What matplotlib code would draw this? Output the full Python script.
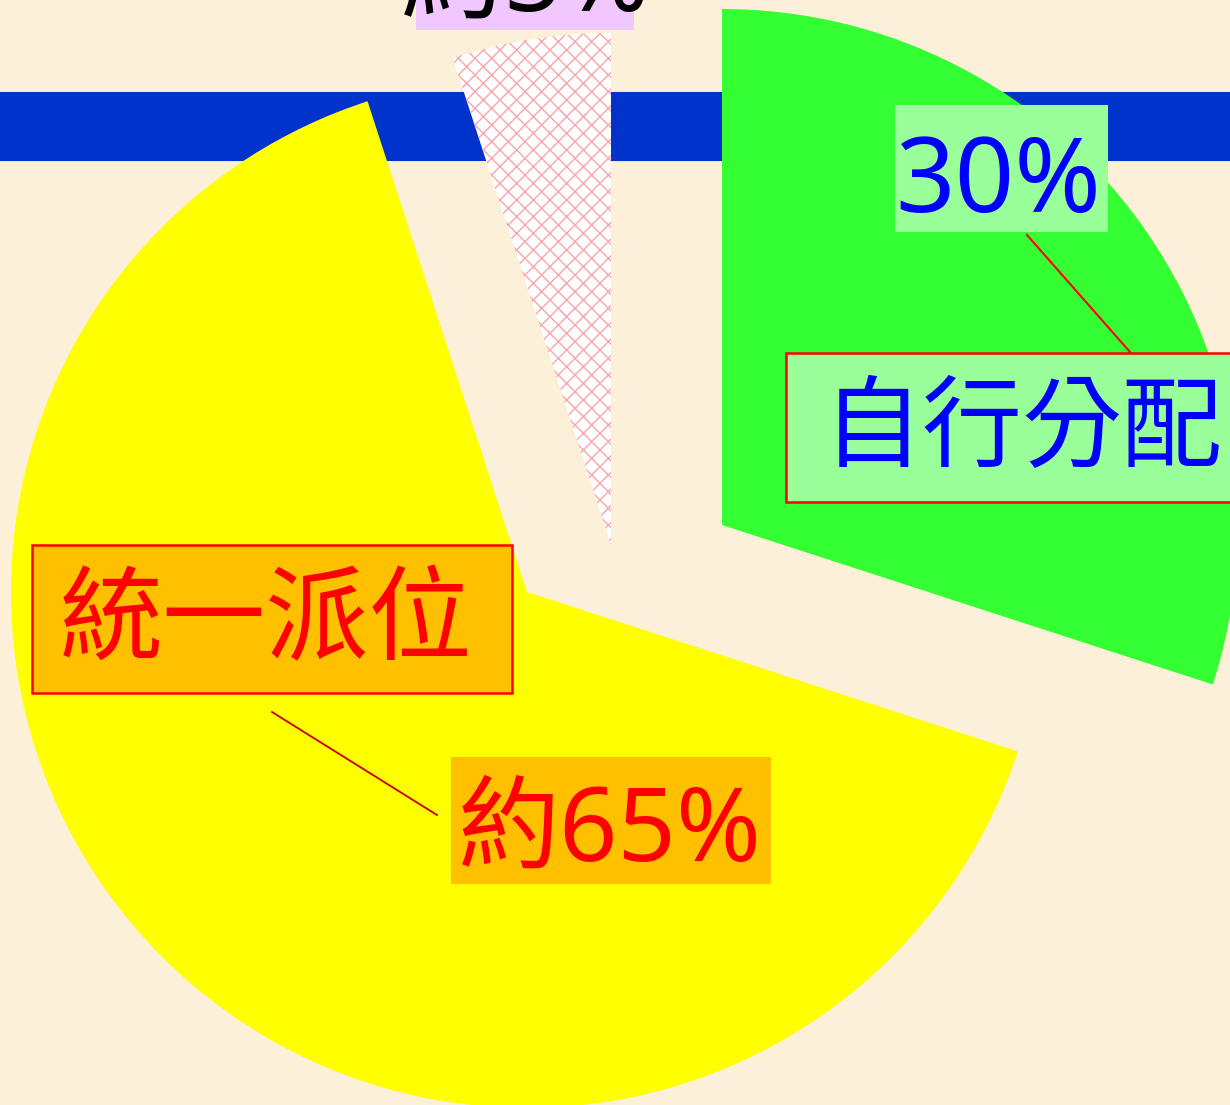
"""
Exploded pie of how places are allocated (統一派位 / 自行分配 / remainder)
"""
import matplotlib
matplotlib.use('Agg')
import matplotlib.pyplot as plt
from matplotlib.patches import Wedge, Rectangle

# shares in percent, in counterclockwise order starting from 12 o'clock
names = ['其他', '統一派位', '自行分配']
shares = [5, 65, 30]
pct_labels = ['約5%', '約65%', '30%']

slice_colors = ['white', '#FFFF00', '#33FF33']
cjk = ['Noto Sans', 'Noto Sans CJK TC', 'DejaVu Sans']

plt.rcParams['hatch.linewidth'] = 0.7

W, H, DPI = 1230, 1105, 150
fig = plt.figure(figsize=(W / DPI, H / DPI), dpi=DPI)
fig.patch.set_facecolor('#FCF0D8')
ax = fig.add_axes([0, 0, 1, 1])
ax.set_xlim(0, W)
ax.set_ylim(H, 0)
ax.set_aspect('equal')
ax.axis('off')

# blue band behind the pie
ax.add_patch(Rectangle((0, 93), W, 67, color='#0033CC', zorder=1))

# slice centres are offset by hand (pixel coords, y down)
centers = [(611, 545), (527, 592), (722, 525)]
radii = [512, 516, 516]

start = 90.0
for i, share in enumerate(shares):
    span = share * 3.6
    # y axis is flipped, so screen angles are negated for the data coords
    w = Wedge(centers[i], radii[i], -(start + span), -start,
              facecolor=slice_colors[i], linewidth=0, zorder=2)
    if i == 0:
        w.set_edgecolor('#F7A8B0')
        w.set_hatch('xxx')
    ax.add_patch(w)
    start += span

# leader lines
ax.plot([1027, 1130], [235, 352], color='red', lw=1.0, zorder=3)
ax.plot([272, 437], [712, 815], color='#D00000', lw=0.9, zorder=3)

# name boxes
ax.add_patch(Rectangle((786, 353), 460, 149, facecolor='#99FF99',
                       edgecolor='red', lw=1.2, zorder=4))
ax.text(823, 432, names[2], color='#0000FF', fontsize=48, family=cjk,
        ha='left', va='center', zorder=5)

ax.add_patch(Rectangle((32, 545), 480, 148, facecolor='#FFC000',
                       edgecolor='red', lw=1.2, zorder=4))
ax.text(266, 626, names[1], color='red', fontsize=49.5, family=cjk,
        ha='center', va='center', zorder=5)

# percentage boxes
ax.add_patch(Rectangle((895, 105), 213, 127, facecolor='#99FF99',
                       lw=0, zorder=4))
ax.text(998, 212, pct_labels[2], color='#0000FF', fontsize=50, family=cjk,
        ha='center', va='baseline', zorder=5)

ax.add_patch(Rectangle((451, 757), 320, 127, facecolor='#FFC000',
                       lw=0, zorder=4))
ax.text(610, 861, pct_labels[1], color='red', fontsize=49, family=cjk,
        ha='center', va='baseline', zorder=5)

ax.add_patch(Rectangle((416, -100), 218, 130, facecolor='#F0C8FF',
                       lw=0, zorder=4))
ax.text(525, 11, pct_labels[0], color='black', fontsize=50, family=cjk,
        ha='center', va='baseline', zorder=5)

fig.savefig('out.png', dpi=DPI, facecolor=fig.get_facecolor())
